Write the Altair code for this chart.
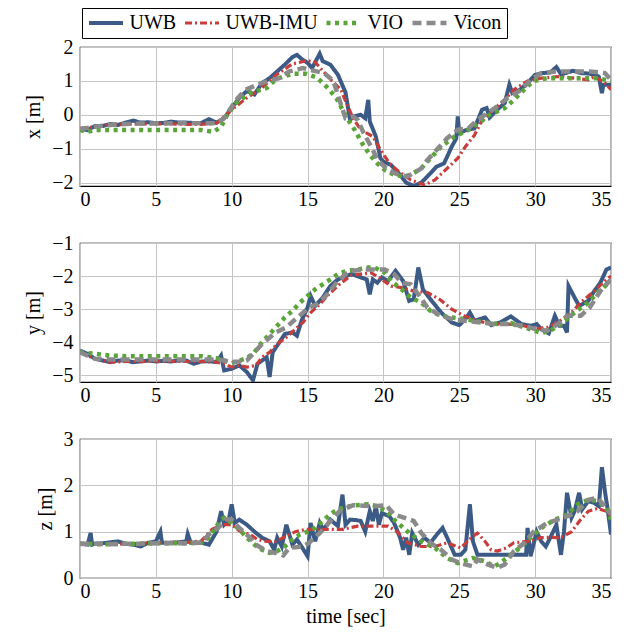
import altair as alt
import pandas as pd

SERIES = ["UWB", "UWB-IMU", "VIO", "Vicon"]
COLORS = ["#3b5a85", "#c83c3c", "#5aa538", "#8a8a8a"]
DASHES = [[1, 0], [7, 3, 2, 3], [4, 4.5], [9, 5]]
WIDTHS = [4, 3.2, 4.5, 4.5]

# ---------------- x [m] ----------------
x_uwb_t = [0, 0.5, 1, 1.5, 2, 2.5, 3, 3.5, 4, 4.5, 5, 5.5, 6, 6.5, 7, 7.5, 8, 8.5, 9, 9.5,
           10, 10.5, 11, 11.5, 12, 12.5, 13, 13.5, 14, 14.3, 14.6, 15, 15.3, 15.5, 15.8, 16,
           16.5, 17, 17.5, 17.8, 18, 18.5, 18.8, 19, 19.1, 19.5, 19.8, 20, 20.5, 21, 21.5, 22,
           22.5, 23, 23.5, 24, 24.5, 24.8, 24.9, 25, 25.5, 26, 26.5, 26.8, 27, 27.5, 28, 28.3,
           28.5, 29, 29.5, 30, 30.5, 31, 31.4, 31.7, 32, 32.5, 33, 33.5, 34, 34.2, 34.4, 34.5, 35]
x_uwb_v = [-0.42, -0.45, -0.33, -0.33, -0.27, -0.3, -0.23, -0.17, -0.23, -0.22, -0.25, -0.24,
           -0.2, -0.23, -0.23, -0.24, -0.24, -0.13, -0.23, -0.1, 0.2, 0.5, 0.7, 0.6, 0.94, 1.08,
           1.28, 1.48, 1.7, 1.77, 1.65, 1.53, 1.38, 1.55, 1.8, 1.58, 1.48, 1.18, 0.66, -0.15,
           -0.05, 0.0, -0.1, 0.44, -0.2, -0.64, -1.28, -1.38, -1.48, -1.72, -2.0, -2.1, -2.0,
           -1.77, -1.53, -1.43, -0.94, -0.7, -0.05, -0.54, -0.44, -0.4, 0.15, 0.2, -0.08, 0.15,
           0.35, 0.89, 0.64, 0.74, 0.94, 1.18, 1.23, 1.25, 1.41, 1.2, 1.23, 1.3, 1.23, 1.22,
           1.18, 1.12, 0.64, 0.89, 0.89]
x_imu_t = [0, 1, 2, 3, 4, 5, 6, 7, 8, 9, 9.5, 10, 11, 12, 13, 14, 15, 15.5, 16, 16.5, 17.2,
           17.5, 18, 18.5, 19.3, 19.8, 20.4, 21, 21.8, 22.7, 23.4, 24.2, 24.9, 25.4, 26, 26.4,
           27.1, 27.9, 28.6, 29.5, 30.4, 31.5, 32.6, 33.5, 33.9, 34.6, 35]
x_imu_v = [-0.4, -0.35, -0.28, -0.28, -0.27, -0.27, -0.27, -0.28, -0.28, -0.25, -0.05, 0.15,
           0.5, 0.8, 1.2, 1.5, 1.6, 1.55, 1.3, 1.05, 0.74, 0.4, -0.1, -0.44, -0.64, -1.03,
           -1.43, -1.67, -1.92, -2.07, -1.92, -1.58, -1.28, -0.94, -0.6, -0.25, 0.1, 0.4, 0.74,
           1.0, 1.08, 1.13, 1.08, 1.03, 1.13, 0.94, 0.74]
x_vio_t = [0, 0.5, 1, 2, 3, 4, 5, 6, 7, 8, 8.8, 9.3, 9.7, 10.3, 11.2, 12.3, 12.7, 13.1, 14,
           14.9, 15.6, 16, 16.4, 16.9, 17.3, 17.6, 18.1, 18.6, 19.1, 19.6, 20.1, 20.7, 21.4,
           21.8, 22.5, 23.1, 23.8, 24.7, 25.6, 26.4, 27, 28, 28.6, 29.5, 29.9, 30.8, 32.6, 34.1, 35]
x_vio_v = [-0.45, -0.5, -0.45, -0.45, -0.45, -0.45, -0.45, -0.45, -0.45, -0.45, -0.5, -0.36,
           0.0, 0.35, 0.64, 0.79, 0.96, 1.08, 1.21, 1.21, 1.1, 0.94, 0.76, 0.49, 0.15, -0.1,
           -0.44, -0.84, -1.18, -1.43, -1.63, -1.77, -1.82, -1.77, -1.58, -1.28, -0.94, -0.64,
           -0.44, -0.2, 0.0, 0.2, 0.44, 0.84, 1.0, 1.08, 1.08, 1.08, 1.0]
x_vic_t = [0, 1, 2, 3, 4, 5, 6, 7, 8, 9, 9.5, 10.3, 10.9, 12, 13.1, 13.8, 14.7, 15.3, 16.1,
           16.7, 17.1, 17.5, 18, 18.3, 18.7, 19.3, 19.6, 20.3, 21, 21.6, 22.5, 22.9, 23.6, 24.2,
           24.9, 25.6, 26.2, 26.7, 27.5, 28.2, 29.1, 29.7, 30.4, 31.5, 32.6, 33.6, 34.6, 35]
x_vic_v = [-0.42, -0.35, -0.3, -0.27, -0.26, -0.26, -0.25, -0.25, -0.25, -0.25, -0.1, 0.44,
           0.74, 0.94, 1.08, 1.28, 1.38, 1.31, 1.23, 1.0, 0.44, -0.1, -0.05, -0.15, -0.54,
           -1.03, -1.33, -1.63, -1.77, -1.82, -1.58, -1.33, -0.99, -0.69, -0.44, -0.4, -0.15,
           0.0, 0.25, 0.5, 0.74, 1.03, 1.23, 1.28, 1.28, 1.28, 1.23, 1.03]

# ---------------- y [m] ----------------
y_uwb_t = [0, 0.5, 1, 1.5, 2, 2.5, 3, 3.5, 4, 4.5, 5, 5.5, 6, 6.5, 7, 7.5, 8, 8.5, 9, 9.3,
           9.5, 10, 10.5, 11, 11.4, 11.7, 12, 12.3, 12.5, 12.7, 13, 13.5, 14, 14.3, 14.6, 15,
           15.2, 15.5, 16, 16.5, 17, 17.5, 17.9, 18.5, 18.9, 19.1, 19.3, 19.6, 19.9, 20.3, 20.8,
           21.3, 21.7, 22, 22.3, 22.6, 23.1, 23.8, 24.5, 25, 25.4, 25.7, 26, 26.7, 27.1, 27.7,
           28.4, 29.1, 29.7, 30.1, 30.4, 30.9, 31.3, 31.6, 31.9, 32.1, 32.2, 32.6, 32.9, 33.5,
           33.9, 34.3, 34.7, 35]
y_uwb_v = [-4.25, -4.35, -4.5, -4.55, -4.6, -4.55, -4.55, -4.6, -4.58, -4.55, -4.58, -4.56,
           -4.58, -4.55, -4.55, -4.65, -4.58, -4.57, -4.6, -4.4, -4.85, -4.8, -4.7, -4.9, -5.15,
           -4.65, -4.55, -4.45, -5.05, -4.3, -4.1, -3.75, -3.7, -3.8, -3.35, -2.95, -2.6, -2.9,
           -2.65, -2.3, -2.1, -2.0, -1.94, -2.04, -2.1, -2.55, -2.1, -2.2, -2.04, -2.15, -1.84,
           -2.15, -2.75, -2.7, -1.74, -2.4, -2.7, -3.1, -3.4, -3.48, -3.3, -3.1, -3.35, -3.25,
           -3.48, -3.4, -3.22, -3.45, -3.5, -3.45, -3.6, -3.73, -3.2, -3.5, -3.5, -3.7, -2.3,
           -2.65, -2.9, -2.75, -2.45, -2.2, -1.8, -1.74]
y_imu_t = [0, 1, 2, 3, 4, 5, 6, 7, 8, 9, 9.5, 10, 10.5, 11, 11.6, 12, 12.5, 13, 13.6, 14.2,
           14.7, 15.1, 15.8, 16.4, 17.1, 17.9, 18.5, 19.2, 19.7, 20.5, 21.2, 22, 22.9, 23.7,
           24.5, 25.3, 26.2, 27.1, 28.2, 29.1, 30, 30.8, 31.5, 32.4, 33, 33.9, 34.6, 35]
y_imu_v = [-4.3, -4.5, -4.6, -4.58, -4.58, -4.57, -4.57, -4.58, -4.58, -4.6, -4.65, -4.75,
           -4.7, -4.75, -4.7, -4.45, -4.3, -4.05, -3.85, -3.6, -3.4, -3.15, -2.85, -2.55, -2.25,
           -1.97, -1.94, -1.9, -2.04, -2.3, -2.35, -2.45, -2.5, -2.7, -3.0, -3.2, -3.35, -3.45,
           -3.45, -3.48, -3.6, -3.55, -3.4, -3.1, -2.8, -2.45, -2.15, -2.0]
y_vio_t = [0, 1, 2, 3, 4, 5, 6, 7, 8, 9, 9.5, 10, 10.5, 11, 11.5, 12, 12.5, 13, 13.5, 14,
           14.5, 15, 15.5, 16, 16.5, 17, 17.6, 18.3, 19, 19.4, 20.1, 20.5, 21.2, 21.8, 22.5,
           23.1, 23.8, 24.5, 25.3, 26.4, 27.5, 28.4, 29.3, 30.4, 31, 31.7, 32.6, 33.5, 34.1, 35]
y_vio_v = [-4.3, -4.35, -4.4, -4.42, -4.42, -4.42, -4.42, -4.42, -4.42, -4.48, -4.55, -4.63,
           -4.55, -4.48, -4.3, -4.0, -3.75, -3.5, -3.25, -3.05, -2.8, -2.6, -2.4, -2.25, -2.1,
           -1.94, -1.84, -1.8, -1.74, -1.74, -1.9, -2.15, -2.4, -2.65, -2.8, -3.05, -3.2, -3.25,
           -3.3, -3.38, -3.45, -3.42, -3.55, -3.72, -3.65, -3.45, -3.1, -2.8, -2.5, -2.15]
y_vic_t = [0, 1, 2, 3, 4, 5, 6, 7, 8, 9, 9.5, 10, 10.5, 11, 11.5, 12, 12.9, 13.6, 14.2, 15.1,
           15.6, 16.2, 16.9, 17.5, 18, 18.7, 20.1, 20.7, 21.2, 21.8, 22.3, 22.9, 23.6, 24.5,
           25.3, 26.4, 27.3, 28.2, 29.3, 30, 30.8, 31.5, 32.1, 33, 33.6, 34.3, 35]
y_vic_v = [-4.3, -4.5, -4.52, -4.52, -4.52, -4.52, -4.52, -4.52, -4.52, -4.52, -4.55, -4.6,
           -4.58, -4.55, -4.3, -4.05, -3.7, -3.55, -3.3, -2.95, -2.85, -2.6, -2.2, -1.94, -1.84,
           -1.8, -1.8, -1.94, -2.2, -2.25, -2.55, -2.95, -3.15, -3.3, -3.35, -3.4, -3.45, -3.45,
           -3.5, -3.6, -3.65, -3.45, -3.2, -3.2, -2.95, -2.45, -2.1]

# ---------------- z [m] ----------------
z_uwb_t = [0, 0.5, 0.7, 0.8, 1, 1.5, 2, 2.5, 3, 3.5, 4, 4.5, 5, 5.3, 5.4, 6, 6.5, 7, 7.1,
           7.3, 8, 8.5, 9, 9.3, 9.5, 9.8, 10, 10.2, 10.5, 11, 11.5, 12, 12.5, 12.8, 13, 13.3,
           13.6, 14, 14.3, 14.6, 15, 15.2, 15.5, 15.8, 16, 16.3, 16.5, 17, 17.3, 17.5, 17.8,
           18.2, 18.5, 18.8, 19.1, 19.3, 19.5, 19.7, 19.9, 20.4, 20.7, 21.1, 21.3, 21.5, 21.7,
           21.9, 22.3, 22.7, 23.1, 23.6, 23.9, 24.2, 24.7, 25.1, 25.4, 25.7, 25.9, 26.2, 29.4,
           29.5, 29.7, 30.1, 30.4, 30.7, 31, 31.4, 31.7, 31.9, 32.1, 32.4, 32.6, 32.9, 33.1,
           33.5, 33.9, 34.2, 34.4, 34.6, 34.8, 35]
z_uwb_v = [0.74, 0.72, 0.97, 0.72, 0.74, 0.75, 0.77, 0.79, 0.74, 0.72, 0.68, 0.76, 0.79, 1.0,
           0.76, 0.76, 0.77, 0.79, 0.95, 0.76, 0.76, 0.72, 1.0, 1.44, 1.15, 1.25, 1.59, 1.19,
           1.26, 1.15, 1.0, 0.87, 0.79, 0.61, 0.87, 0.68, 1.15, 0.72, 0.83, 0.68, 0.47, 1.19,
           0.79, 1.19, 1.05, 1.15, 1.26, 1.12, 1.8, 1.15, 1.26, 1.25, 1.23, 1.0, 1.44, 1.23,
           1.55, 1.15, 1.4, 1.33, 1.19, 0.87, 0.61, 0.87, 0.5, 0.97, 0.72, 0.87, 0.76, 0.97,
           1.08, 0.87, 0.5, 0.5, 0.61, 1.59, 0.79, 0.5, 0.5, 1.08, 0.47, 1.0, 0.79, 0.68, 0.87,
           1.15, 0.5, 1.0, 1.84, 1.3, 1.44, 1.84, 1.48, 1.66, 1.62, 1.55, 2.39, 1.87, 1.44, 0.94]
z_imu_t = [0, 1, 2, 3, 4, 5, 6, 7, 8, 8.7, 9.4, 10, 10.5, 11.2, 11.7, 12.3, 12.9, 13.6, 14.2,
           14.9, 15.6, 16.4, 17.3, 18.3, 19.4, 20.3, 20.9, 21.6, 22.5, 23.4, 24.2, 25.1, 25.8,
           26.2, 26.7, 27.1, 27.5, 28.1, 28.6, 29.5, 30.4, 31, 31.7, 32.4, 33, 33.5, 34.1, 34.7, 35]
z_imu_v = [0.72, 0.74, 0.74, 0.73, 0.75, 0.76, 0.77, 0.77, 0.8, 1.05, 1.15, 1.15, 1.02, 0.94,
           0.83, 0.79, 0.79, 0.9, 1.0, 1.05, 1.05, 1.05, 1.05, 1.12, 1.12, 1.12, 1.0, 0.76,
           0.68, 0.68, 0.76, 0.65, 0.87, 0.97, 0.79, 0.61, 0.58, 0.65, 0.76, 0.79, 0.87, 0.88,
           0.87, 1.0, 1.26, 1.44, 1.5, 1.44, 1.33]
z_vio_t = [0, 1, 2, 3, 4, 5, 6, 7, 8, 8.5, 9, 9.3, 9.5, 10, 10.5, 11, 11.5, 12, 12.5, 13,
           13.5, 14, 14.5, 15, 15.5, 16, 16.5, 17, 17.5, 18.1, 19, 19.6, 20.2, 20.8, 21.7, 22.5,
           23.4, 24.2, 24.9, 25.9, 26.7, 27.3, 27.7, 28.4, 29.1, 29.7, 30.4, 31.3, 32.1, 32.8,
           33.5, 34.1, 34.7, 35]
z_vio_v = [0.74, 0.73, 0.73, 0.74, 0.74, 0.75, 0.75, 0.75, 0.76, 0.87, 1.12, 1.26, 1.3, 1.19,
           1.05, 0.87, 0.72, 0.61, 0.54, 0.58, 0.68, 0.83, 0.94, 1.0, 1.08, 1.23, 1.38, 1.48,
           1.53, 1.57, 1.59, 1.55, 1.44, 1.23, 0.97, 0.79, 0.65, 0.43, 0.32, 0.43, 0.36, 0.25,
           0.32, 0.5, 0.68, 0.87, 1.08, 1.26, 1.37, 1.59, 1.69, 1.66, 1.51, 1.26]
z_vic_t = [0, 1, 2, 3, 4, 5, 6, 7, 8, 8.5, 9.1, 9.6, 10, 10.5, 11.2, 11.6, 12.3, 12.9, 13.4,
           13.8, 14.7, 15.1, 15.8, 16.4, 17.1, 18, 19.4, 20.2, 20.7, 21.4, 22, 22.5, 23.1, 23.8,
           24.5, 25.1, 25.9, 26.2, 26.9, 27.5, 28, 28.6, 29.3, 29.9, 30.8, 31.5, 32.1, 32.8,
           33.5, 34.1, 34.7, 35]
z_vic_v = [0.74, 0.74, 0.73, 0.74, 0.74, 0.75, 0.75, 0.75, 0.76, 0.94, 1.08, 1.26, 1.26, 1.08,
           0.87, 0.72, 0.58, 0.54, 0.49, 0.65, 0.68, 0.76, 0.97, 1.19, 1.44, 1.57, 1.55, 1.57,
           1.37, 1.3, 1.23, 0.97, 0.76, 0.61, 0.4, 0.32, 0.25, 0.4, 0.29, 0.22, 0.29, 0.58,
           0.76, 1.0, 1.19, 1.26, 1.33, 1.44, 1.69, 1.73, 1.51, 1.37]

PANELS = [
    ("x [m]", [-2.1, 2], [-2, -1, 0, 1, 2],
     [(x_uwb_t, x_uwb_v), (x_imu_t, x_imu_v), (x_vio_t, x_vio_v), (x_vic_t, x_vic_v)]),
    ("y [m]", [-5.2, -1], [-5, -4, -3, -2, -1],
     [(y_uwb_t, y_uwb_v), (y_imu_t, y_imu_v), (y_vio_t, y_vio_v), (y_vic_t, y_vic_v)]),
    ("z [m]", [0, 3], [0, 1, 2, 3],
     [(z_uwb_t, z_uwb_v), (z_imu_t, z_imu_v), (z_vio_t, z_vio_v), (z_vic_t, z_vic_v)]),
]

FONT = "Liberation Serif"
AX = dict(labelFont=FONT, labelFontSize=20, labelColor="black",
          titleFont=FONT, titleFontSize=20, titleColor="black", titleFontWeight="normal",
          grid=True, gridColor="#c4c4c4", gridWidth=1, domain=False, ticks=False)

charts = []
for i, (ytitle, ydom, yticks, series_data) in enumerate(PANELS):
    rows = []
    for s, (ts, vs) in zip(SERIES, series_data):
        for t, v in zip(ts, vs):
            rows.append({"series": s, "t": t, "v": v})
    df = pd.DataFrame(rows)
    last = i == len(PANELS) - 1
    xaxis = alt.Axis(values=[0, 5, 10, 15, 20, 25, 30, 35], title="time [sec]" if last else None,
                     labelPadding=3, titlePadding=5, **AX)
    yaxis = alt.Axis(values=yticks, title=ytitle, labelPadding=7, titlePadding=8, **AX)
    ch = alt.Chart(df).mark_line(clip=True, strokeJoin="miter").encode(
        x=alt.X("t:Q", scale=alt.Scale(domain=[0, 35], nice=False, zero=False), axis=xaxis),
        y=alt.Y("v:Q", scale=alt.Scale(domain=ydom, nice=False, zero=False), axis=yaxis),
        color=alt.Color("series:N", scale=alt.Scale(domain=SERIES, range=COLORS),
                        legend=alt.Legend(title=None)),
        strokeDash=alt.StrokeDash("series:N", scale=alt.Scale(domain=SERIES, range=DASHES),
                                  legend=alt.Legend(title=None)),
        strokeWidth=alt.StrokeWidth("series:N",
                                    scale=alt.Scale(type="ordinal", domain=SERIES, range=WIDTHS),
                                    legend=alt.Legend(title=None)),
    ).properties(width=531, height=139)
    charts.append(ch)

chart = alt.vconcat(*charts, spacing=22).properties(
    padding={"left": 23, "top": 7, "right": 10, "bottom": 5}
).configure(
    font=FONT,
    style={"guide-label": {"font": FONT}, "guide-title": {"font": FONT}},
).configure_view(
    stroke="black", strokeWidth=1.2
).configure_axis(
    labelFont=FONT, titleFont=FONT
).configure_legend(
    orient="none", legendX=2, legendY=-39, direction="horizontal",
    strokeColor="black", fillColor="white", padding=5, cornerRadius=0,
    symbolType="stroke", symbolSize=1156, clipHeight=20,
    labelFont=FONT, labelFontSize=20, labelColor="black", labelOffset=4.5, columnPadding=6,
)

chart.save("out.html", embed_options={"renderer": "svg", "actions": False})
